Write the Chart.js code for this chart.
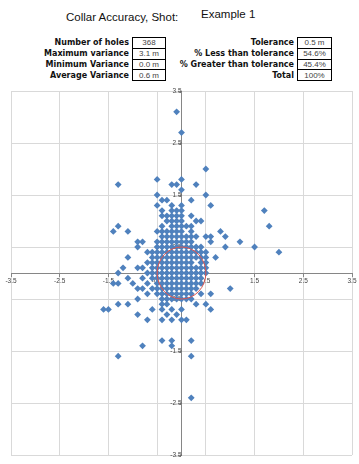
<!DOCTYPE html>
<html lang="en">
<head>
    <meta charset="UTF-8">
    <title>Collar Accuracy</title>
    <script src="https://cdn.jsdelivr.net/npm/chart.js"></script>
    <style>
        body { margin: 0; width: 359px; height: 464px; background: #fff; position: relative; overflow: hidden; font-family: "Liberation Sans", Arial, sans-serif; }
        .title { position: absolute; top: 11px; left: 66px; font-size: 11.5px; color: #111; }
        .shot { position: absolute; top: 8px; left: 201px; font-size: 11.5px; color: #111; }
        table.stats { position: absolute; top: 37px; border-collapse: collapse; }
        table.stats td { height: 9.8px; padding: 0; line-height: 9px; }
        td.lbl { font-family: "DejaVu Sans", sans-serif; font-weight: bold; font-size: 8px; text-align: right; padding-right: 3px !important; color: #111; white-space: nowrap; }
        td.val { border: 1px solid #000; font-size: 8px; text-align: center; color: #444; }
        #chartBox { position: absolute; left: 0; top: 85px; width: 359px; height: 379px; }
    </style>
</head>
<body>
    <div class="title">Collar Accuracy, Shot:</div>
    <div class="shot">Example 1</div>

    <table class="stats" style="right: 193px;">
        <tr><td class="lbl">Number of holes</td><td class="val" style="width:32px">368</td></tr>
        <tr><td class="lbl">Maximum variance</td><td class="val">3.1 m</td></tr>
        <tr><td class="lbl">Minimum Variance</td><td class="val">0.0 m</td></tr>
        <tr><td class="lbl">Average Variance</td><td class="val">0.6 m</td></tr>
    </table>

    <table class="stats" style="right: 27px;">
        <tr><td class="lbl">Tolerance</td><td class="val" style="width:33px">0.5 m</td></tr>
        <tr><td class="lbl">% Less than tolerance</td><td class="val">54.6%</td></tr>
        <tr><td class="lbl">% Greater than tolerance</td><td class="val">45.4%</td></tr>
        <tr><td class="lbl">Total</td><td class="val">100%</td></tr>
    </table>

    <div id="chartBox"><canvas id="collarChart"></canvas></div>

    <script>
        // hole offsets (m), one row per northing value, eastings listed for each row
        const northing = [3.1, 2.7, 2.0, 1.8, 1.7, 1.6, 1.5, 1.4, 1.3, 1.2, 1.1, 1.0, 0.9, 0.8, 0.7, 0.6,
            0.5, 0.4, 0.3, 0.2, 0.1, 0.0, -0.1, -0.2, -0.3, -0.4, -0.5, -0.6, -0.7, -0.8, -0.9,
            -1.3, -1.4, -1.6, -2.4];
        const eastingByRow = [
            [-0.1],
            [0.0],
            [0.5],
            [-0.5, 0.0],
            [-1.3, -0.2, -0.1, 0.3],
            [0.0],
            [-0.5, 0.5],
            [-0.4, -0.3, 0.2],
            [-0.5, -0.2, 0.0, 0.6],
            [-0.4, -0.2, -0.1, 0.0, 1.7],
            [-0.4, -0.3, -0.2, -0.1, 0.0, 0.2],
            [-0.3, -0.2, -0.1, 0.0, 0.3, 0.4],
            [-1.3, -0.4, -0.2, -0.1, 0.0, 0.1, 0.2, 1.8],
            [-1.4, -1.1, -0.5, -0.4, -0.3, -0.2, -0.1, 0.0, 0.2, 0.8],
            [-0.4, -0.3, -0.2, -0.1, 0.0, 0.1, 0.2, 0.3, 0.5, 0.6, 0.9],
            [-0.9, -0.8, -0.5, -0.4, -0.3, -0.2, -0.1, 0.0, 0.1, 0.2, 0.6, 1.2],
            [-0.9, -0.5, -0.4, -0.3, -0.2, -0.1, 0.0, 0.1, 0.2, 0.3, 0.4, 0.9, 1.5],
            [-0.7, -0.6, -0.5, -0.4, -0.3, -0.2, -0.1, 0.0, 0.1, 0.2, 0.3, 0.4, 0.5, 2.0],
            [-1.1, -0.6, -0.5, -0.4, -0.3, -0.2, -0.1, 0.0, 0.1, 0.2, 0.3, 0.4, 0.5, 0.7],
            [-0.7, -0.6, -0.5, -0.4, -0.3, -0.2, -0.1, 0.0, 0.1, 0.2, 0.4, 0.5],
            [-1.2, -0.9, -0.8, -0.6, -0.5, -0.4, -0.3, -0.2, -0.1, 0.0, 0.1, 0.2, 0.3, 0.4, 0.5],
            [-1.3, -0.7, -0.6, -0.5, -0.4, -0.3, -0.2, -0.1, 0.0, 0.1, 0.2, 0.3, 0.4, 0.5],
            [-1.1, -0.8, -0.6, -0.5, -0.4, -0.3, -0.2, -0.1, 0.0, 0.1, 0.2, 0.3, 0.4],
            [-1.4, -1.3, -1.0, -0.7, -0.5, -0.4, -0.3, -0.2, -0.1, 0.0, 0.1, 0.2, 0.3, 0.4],
            [-0.9, -0.8, -0.6, -0.5, -0.4, -0.3, -0.2, -0.1, 0.0, 0.1, 0.2, 0.3, 1.0],
            [-0.7, -0.5, -0.4, -0.3, -0.2, -0.1, 0.0, 0.1, 0.2, 0.4, 0.6],
            [-0.9, -0.4, -0.3, -0.2, -0.1, 0.0, 0.1, 0.2],
            [-1.3, -1.1, -0.4, -0.3, 0.3, 0.5],
            [-1.6, -1.5, -0.6, -0.4, -0.2, 0.0, 0.6],
            [-0.9, -0.3, -0.1],
            [-0.7, -0.4, -0.2, 0.0, 0.1],
            [-0.4, -0.2, 0.2],
            [-0.8, -0.2],
            [-1.3, 0.2],
            [0.2]
        ];
        const tickValues = [-3.5, -2.5, -1.5, -0.5, 0.5, 1.5, 2.5, 3.5];
        const tolerance = 0.5;

        const holes = [];
        northing.forEach((y, i) => {
            eastingByRow[i].forEach(x => holes.push({ x: x, y: y }));
        });

        // red tolerance ring, drawn through the scales
        const toleranceRing = {
            id: 'toleranceRing',
            afterDatasetsDraw(chart) {
                const sx = chart.scales.x, sy = chart.scales.y;
                const cx = sx.getPixelForValue(0), cy = sy.getPixelForValue(0);
                const rx = sx.getPixelForValue(tolerance) - cx;
                const ry = cy - sy.getPixelForValue(tolerance);
                const ctx = chart.ctx;
                ctx.save();
                ctx.beginPath();
                ctx.ellipse(cx, cy, rx, ry, 0, 0, Math.PI * 2);
                ctx.strokeStyle = '#d9534f';
                ctx.lineWidth = 1;
                ctx.stroke();
                ctx.restore();
            }
        };

        function axisOptions(crossAxis) {
            return {
                type: 'linear',
                min: -3.5,
                max: 3.5,
                position: { [crossAxis]: 0 },
                afterBuildTicks: scale => { scale.ticks = tickValues.map(v => ({ value: v })); },
                grid: { color: '#d9d9d9', lineWidth: 1, tickLength: 3, tickColor: '#868686' },
                border: { color: '#868686', width: 1 },
                ticks: {
                    color: '#444',
                    font: { size: 6.5, family: 'Liberation Sans' },
                    padding: 1,
                    maxRotation: 0,
                    autoSkip: false,
                    callback: v => v
                }
            };
        }

        new Chart(document.getElementById('collarChart'), {
            type: 'scatter',
            data: {
                datasets: [{
                    data: holes,
                    pointStyle: 'rectRot',
                    pointRadius: 3.4,
                    backgroundColor: '#4f81bd',
                    borderColor: '#4f81bd',
                    borderWidth: 0
                }]
            },
            options: {
                responsive: true,
                maintainAspectRatio: false,
                animation: false,
                layout: { padding: { left: 11, right: 7, top: 6, bottom: 9 } },
                plugins: { legend: { display: false }, tooltip: { enabled: false } },
                scales: {
                    x: axisOptions('y'),
                    y: axisOptions('x')
                }
            },
            plugins: [toleranceRing]
        });
    </script>
</body>
</html>
